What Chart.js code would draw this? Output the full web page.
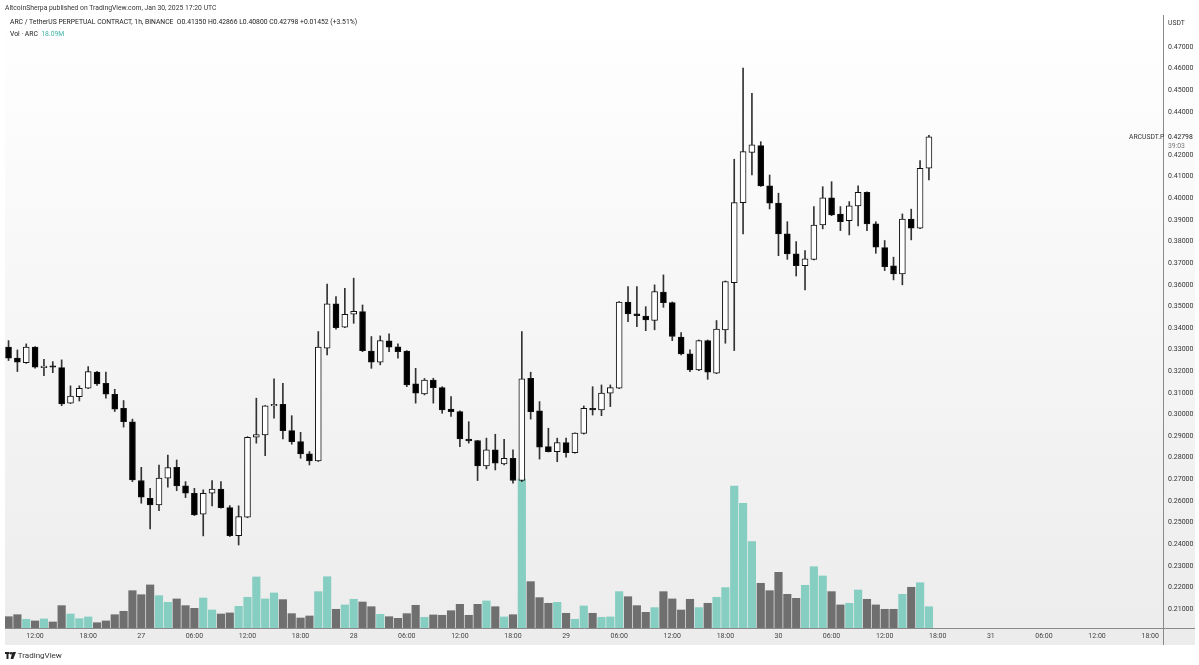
<!DOCTYPE html>
<html><head><meta charset="utf-8">
<script src="https://cdn.jsdelivr.net/npm/chart.js@4.4.1/dist/chart.umd.min.js"></script>
<style>
html,body{margin:0;padding:0;background:#fff;width:1199px;height:665px;overflow:hidden;font-family:Roboto,"Liberation Sans",sans-serif;}
#wrap{position:relative;width:1199px;height:665px;}
canvas{position:absolute;left:0;top:0;}
.t{position:absolute;white-space:nowrap;font-size:6.8px;color:#222;line-height:9px;}
</style></head>
<body><div id="wrap"><canvas id="c" width="1199" height="665"></canvas>
<div class="t" style="left:5px;top:4px;color:#333">AltcoinSherpa published on TradingView.com, Jan 30, 2025 17:20 UTC</div>
<div class="t" style="left:10px;top:18px;">ARC / TetherUS PERPETUAL CONTRACT, 1h, BINANCE&nbsp; O0.41350 H0.42866 L0.40800 C0.42798 +0.01452 (+3.51%)</div>
<div class="t" style="left:10px;top:30px;">Vol · ARC&nbsp; <span style="color:#3fb5a4">18.09M</span></div>
<div class="t" style="left:1168px;top:19px;color:#333">USDT</div>
<div class="t" style="left:1129px;top:133px;color:#333">ARCUSDT.P</div>
<div class="t" style="left:1168px;top:133px;color:#222">0.42798</div>
<div class="t" style="left:1168px;top:142px;color:#777">39:03</div>
<div class="t" style="left:5px;top:651px;font-size:8px;color:#333;line-height:10px;"><svg width="11" height="7" viewBox="0 0 11 7" style="vertical-align:-1px"><rect x="0" y="0" width="4.5" height="2" fill="#222"/><rect x="1.5" y="0" width="2" height="7" fill="#222"/><circle cx="6" cy="1.3" r="1.2" fill="#222"/><polygon points="7.5,0 11,0 8.3,7 5.5,7" fill="#222"/></svg> TradingView</div>
</div>
<script>
// ---- data (1h candles, 26 Jan 09:00 -> 30 Jan 17:00 UTC) ----
const opens = [0.3307,0.3256,0.3235,0.3307,0.3212,0.3216,0.3212,0.3048,0.3078,0.3117,0.3191,0.3140,0.3089,0.3024,0.2962,0.2690,0.2608,0.2577,0.2701,0.2751,0.2665,0.2631,0.2534,0.2631,0.2650,0.2565,0.2435,0.2520,0.2890,0.2901,0.3035,0.3043,0.2921,0.2870,0.2813,0.2781,0.3302,0.3507,0.3399,0.3459,0.3471,0.3289,0.3237,0.3336,0.3308,0.3289,0.3137,0.3090,0.3155,0.3120,0.3020,0.3009,0.2882,0.2875,0.2758,0.2832,0.2767,0.2793,0.2690,0.3163,0.3012,0.2847,0.2824,0.2865,0.2819,0.2908,0.3024,0.3017,0.3094,0.3117,0.3515,0.3461,0.3451,0.3430,0.3561,0.3513,0.3353,0.3276,0.3201,0.3337,0.3186,0.3387,0.3605,0.3975,0.4207,0.4239,0.4053,0.3973,0.3831,0.3738,0.3684,0.3713,0.3872,0.3998,0.3922,0.3892,0.3960,0.4023,0.3877,0.3767,0.3683,0.3646,0.3899,0.3857,0.4135];
const highs = [0.3337,0.3294,0.3322,0.3310,0.3251,0.3240,0.3248,0.3128,0.3128,0.3217,0.3195,0.3191,0.3112,0.3060,0.2974,0.2751,0.2654,0.2762,0.2808,0.2785,0.2685,0.2654,0.2647,0.2690,0.2685,0.2574,0.2573,0.2893,0.3071,0.3037,0.3160,0.3140,0.2990,0.2913,0.2824,0.3379,0.3599,0.3541,0.3579,0.3626,0.3502,0.3356,0.3359,0.3368,0.3322,0.3291,0.3209,0.3162,0.3163,0.3124,0.3078,0.3012,0.2962,0.2876,0.2886,0.2904,0.2881,0.2832,0.3379,0.3191,0.3055,0.2932,0.2886,0.2886,0.2911,0.3035,0.3124,0.3132,0.3132,0.3518,0.3587,0.3587,0.3494,0.3595,0.3641,0.3516,0.3374,0.3294,0.3340,0.3340,0.3430,0.3613,0.4176,0.4597,0.4481,0.4257,0.4103,0.4019,0.3887,0.3795,0.3753,0.3957,0.4049,0.4072,0.3957,0.3980,0.4053,0.4025,0.3887,0.3800,0.3723,0.3923,0.3945,0.4170,0.42866];
const lows = [0.3245,0.3194,0.3232,0.3210,0.3175,0.3189,0.3036,0.3046,0.3058,0.3115,0.3130,0.3071,0.3009,0.2937,0.2685,0.2585,0.2466,0.2551,0.2659,0.2643,0.2611,0.2528,0.2434,0.2573,0.2562,0.2431,0.2392,0.2518,0.2863,0.2805,0.2978,0.2882,0.2858,0.2793,0.2762,0.2778,0.3271,0.3390,0.3397,0.3417,0.3286,0.3209,0.3225,0.3286,0.3256,0.3124,0.3048,0.3086,0.3048,0.3001,0.2986,0.2847,0.2863,0.2690,0.2744,0.2739,0.2762,0.2678,0.2685,0.2974,0.2789,0.2822,0.2777,0.2798,0.2817,0.2905,0.2993,0.2990,0.3032,0.3115,0.3425,0.3402,0.3383,0.3387,0.3491,0.3337,0.3271,0.3194,0.3198,0.3158,0.3184,0.3325,0.3291,0.3831,0.4103,0.4050,0.3946,0.3730,0.3713,0.3636,0.3572,0.3710,0.3854,0.3915,0.3846,0.3826,0.3868,0.3846,0.3741,0.3661,0.3618,0.3595,0.3803,0.3855,0.4080];
const closes = [0.3256,0.3237,0.3307,0.3214,0.3215,0.3214,0.3044,0.3081,0.3117,0.3194,0.3137,0.3089,0.3020,0.2962,0.2693,0.2613,0.2577,0.2701,0.2750,0.2665,0.2631,0.2531,0.2631,0.2650,0.2565,0.2435,0.2523,0.2890,0.2902,0.3035,0.3043,0.2921,0.2870,0.2813,0.2781,0.3307,0.3507,0.3397,0.3459,0.3473,0.3291,0.3237,0.3337,0.3307,0.3286,0.3132,0.3094,0.3155,0.3120,0.3017,0.3009,0.2882,0.2873,0.2758,0.2832,0.2770,0.2793,0.2690,0.3160,0.3009,0.2844,0.2824,0.2865,0.2819,0.2909,0.3024,0.3017,0.3094,0.3120,0.3515,0.3461,0.3453,0.3433,0.3564,0.3513,0.3356,0.3276,0.3201,0.3337,0.3191,0.3390,0.3610,0.3975,0.4211,0.4242,0.4053,0.3973,0.3831,0.3738,0.3684,0.3715,0.3872,0.3998,0.3918,0.3887,0.3960,0.4023,0.3877,0.3769,0.3679,0.3646,0.3899,0.3857,0.4134,0.42798];
const volumes = [9.6,11.3,7.4,6.0,7.7,5.1,19.0,11.9,7.9,9.4,4.5,6.0,11.3,14.2,31.7,28.3,36.6,27.5,21.8,24.7,19.0,16.7,25.5,15.3,11.9,12.8,18.4,26.1,43.4,24.7,29.8,24.1,12.2,8.5,10.2,30.9,43.6,15.9,19.6,24.4,22.1,18.1,11.6,9.6,8.2,12.2,19.3,9.1,11.1,10.8,14.7,20.1,10.8,20.1,23.0,18.1,9.4,11.3,126.7,39.4,25.8,21.0,21.8,12.5,7.4,18.7,12.5,9.1,9.4,30.9,26.6,19.0,13.3,17.3,30.9,24.7,15.3,24.4,17.3,21.0,26.1,34.3,120.7,106.0,73.4,38.0,31.7,47.3,28.6,25.2,36.3,52.1,44.2,30.9,19.6,21.0,32.3,24.4,19.6,15.9,15.9,28.6,34.6,38.5,18.09];
// time-axis ticks: hours counted from 26 Jan 09:00
const tickHours = [3,9,15,21,27,33,39,45,51,57,63,69,75,81,87,93,99,105,111,117,123,129];
const tickLabels = ['12:00','18:00','27','06:00','12:00','18:00','28','06:00','12:00','18:00','29','06:00','12:00','18:00','30','06:00','12:00','18:00','31','06:00','12:00','18:00'];
const priceTicks = [0.21,0.22,0.23,0.24,0.25,0.26,0.27,0.28,0.29,0.30,0.31,0.32,0.33,0.34,0.35,0.36,0.37,0.38,0.39,0.40,0.41,0.42,0.43,0.44,0.45,0.46,0.47];

const idx = opens.map((_, i) => i);
const up = idx.map(i => closes[i] >= opens[i]);
const FONT = {family: 'Roboto, "Liberation Sans", sans-serif', size: 7};

const bgPlugin = {
  id: 'bg',
  beforeDraw(chart) {
    const ctx = chart.ctx;
    ctx.save();
    const g = ctx.createLinearGradient(0, 14, 0, 645);
    g.addColorStop(0, '#ffffff');
    g.addColorStop(1, '#ececec');
    ctx.fillStyle = g;
    ctx.fillRect(5, 14, 1190, 631);
    ctx.restore();
  },
  afterDraw(chart) {
    const ctx = chart.ctx, a = chart.chartArea;
    ctx.save();
    ctx.strokeStyle = '#8a8a8a';
    ctx.lineWidth = 1;
    ctx.beginPath();
    ctx.moveTo(a.right + 0.5, a.bottom); ctx.lineTo(a.right + 0.5, 645);
    ctx.moveTo(a.right, a.bottom + 0.5); ctx.lineTo(1195, a.bottom + 0.5);
    ctx.stroke();
    ctx.restore();
  }
};

new Chart(document.getElementById('c'), {
  type: 'bar',
  data: {
    datasets: [
      {
        label: 'body', order: 0, yAxisID: 'y',
        data: idx.map(i => ({x: i, y: [opens[i], closes[i]]})),
        backgroundColor: idx.map(i => up[i] ? '#ffffff' : '#000000'),
        borderColor: '#111111', borderWidth: 1, borderSkipped: false,
        barThickness: 6, grouped: false, minBarLength: 1.5
      },
      {
        label: 'wick', order: 1, yAxisID: 'y',
        data: idx.map(i => ({x: i, y: [lows[i], highs[i]]})),
        backgroundColor: '#333333', borderWidth: 0,
        barThickness: 1, grouped: false
      },
      {
        label: 'volume', order: 2, yAxisID: 'yVol',
        data: idx.map(i => ({x: i, y: volumes[i]})),
        backgroundColor: idx.map(i => up[i] ? '#86cec1' : '#6f6f6f'),
        borderWidth: 0, barThickness: 7.5, grouped: false
      }
    ]
  },
  options: {
    responsive: false, animation: false, devicePixelRatio: 1,
    layout: {padding: {left: 5, top: 15, right: 0, bottom: 20}},
    plugins: {legend: {display: false}, tooltip: {enabled: false}},
    scales: {
      x: {
        type: 'linear', min: -0.4, max: 130.45, offset: false,
        grid: {display: false, drawTicks: false},
        border: {display: true, color: '#8a8a8a'},
        afterBuildTicks: s => { s.ticks = tickHours.map(v => ({value: v})); },
        afterFit: s => { s.height = 17; },
        ticks: {autoSkip: false, maxRotation: 0, padding: 4, color: '#444', font: FONT,
          callback: (v, i) => tickLabels[i]}
      },
      y: {
        type: 'linear', position: 'right', min: 0.2008, max: 0.4843,
        grid: {display: false, drawTicks: false},
        border: {display: true, color: '#8a8a8a'},
        afterBuildTicks: s => { s.ticks = priceTicks.map(v => ({value: v})); },
        afterFit: s => { s.width = 36; },
        ticks: {padding: 5, labelOffset: 1, color: '#333', font: FONT,
          callback: v => Math.abs(v - 0.43) < 1e-6 ? '' : v.toFixed(5)}
      },
      yVol: {type: 'linear', display: false, min: 0, max: 521}
    }
  },
  plugins: [bgPlugin]
});
</script>
</body></html>
